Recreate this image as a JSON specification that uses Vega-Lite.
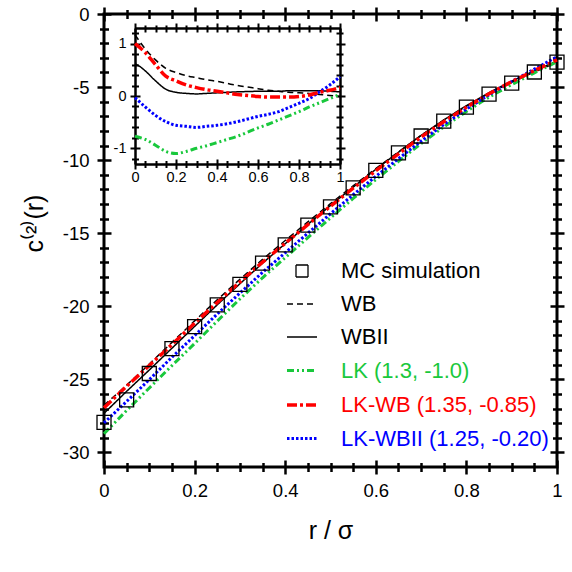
{
  "$schema": "https://vega.github.io/schema/vega-lite/v6.json",
  "width": 453,
  "height": 453,
  "autosize": {"type": "none"},
  "padding": {"left": 104, "top": 14, "right": 15, "bottom": 105},
  "background": "white",
  "datasets": {
    "main": [
      {"series":"MC simulation","r":0,"c":-27.95},{"series":"MC simulation","r":0.05,"c":-26.4},{"series":"MC simulation","r":0.1,"c":-24.6},{"series":"MC simulation","r":0.15,"c":-22.9},{"series":"MC simulation","r":0.2,"c":-21.4},{"series":"MC simulation","r":0.25,"c":-19.9},{"series":"MC simulation","r":0.3,"c":-18.5},{"series":"MC simulation","r":0.35,"c":-17.05},{"series":"MC simulation","r":0.4,"c":-15.8},{"series":"MC simulation","r":0.45,"c":-14.45},{"series":"MC simulation","r":0.5,"c":-13.2},{"series":"MC simulation","r":0.55,"c":-11.9},{"series":"MC simulation","r":0.6,"c":-10.7},{"series":"MC simulation","r":0.65,"c":-9.5},{"series":"MC simulation","r":0.7,"c":-8.35},{"series":"MC simulation","r":0.75,"c":-7.33},{"series":"MC simulation","r":0.8,"c":-6.37},{"series":"MC simulation","r":0.85,"c":-5.48},{"series":"MC simulation","r":0.9,"c":-4.73},{"series":"MC simulation","r":0.95,"c":-3.97},{"series":"MC simulation","r":1,"c":-3.3},
      {"series":"WB","r":0,"c":-26.78},{"series":"WB","r":0.05,"c":-25.4},{"series":"WB","r":0.1,"c":-23.96},{"series":"WB","r":0.15,"c":-22.47},{"series":"WB","r":0.2,"c":-21.0},{"series":"WB","r":0.25,"c":-19.56},{"series":"WB","r":0.3,"c":-18.15},{"series":"WB","r":0.35,"c":-16.79},{"series":"WB","r":0.4,"c":-15.5},{"series":"WB","r":0.45,"c":-14.23},{"series":"WB","r":0.5,"c":-12.98},{"series":"WB","r":0.55,"c":-11.76},{"series":"WB","r":0.6,"c":-10.58},{"series":"WB","r":0.65,"c":-9.44},{"series":"WB","r":0.7,"c":-8.31},{"series":"WB","r":0.75,"c":-7.28},{"series":"WB","r":0.8,"c":-6.31},{"series":"WB","r":0.85,"c":-5.43},{"series":"WB","r":0.9,"c":-4.67},{"series":"WB","r":0.95,"c":-3.97},{"series":"WB","r":1,"c":-3.31},
      {"series":"WBII","r":0,"c":-27.33},{"series":"WBII","r":0.05,"c":-25.82},{"series":"WBII","r":0.1,"c":-24.36},{"series":"WBII","r":0.15,"c":-22.87},{"series":"WBII","r":0.2,"c":-21.38},{"series":"WBII","r":0.25,"c":-19.9},{"series":"WBII","r":0.3,"c":-18.46},{"series":"WBII","r":0.35,"c":-17.05},{"series":"WBII","r":0.4,"c":-15.72},{"series":"WBII","r":0.45,"c":-14.4},{"series":"WBII","r":0.5,"c":-13.1},{"series":"WBII","r":0.55,"c":-11.85},{"series":"WBII","r":0.6,"c":-10.63},{"series":"WBII","r":0.65,"c":-9.46},{"series":"WBII","r":0.7,"c":-8.31},{"series":"WBII","r":0.75,"c":-7.25},{"series":"WBII","r":0.8,"c":-6.27},{"series":"WBII","r":0.85,"c":-5.38},{"series":"WBII","r":0.9,"c":-4.6},{"series":"WBII","r":0.95,"c":-3.89},{"series":"WBII","r":1,"c":-3.22},
      {"series":"LK (1.3, -1.0)","r":0,"c":-28.72},{"series":"LK (1.3, -1.0)","r":0.05,"c":-27.13},{"series":"LK (1.3, -1.0)","r":0.1,"c":-25.59},{"series":"LK (1.3, -1.0)","r":0.15,"c":-24.06},{"series":"LK (1.3, -1.0)","r":0.2,"c":-22.55},{"series":"LK (1.3, -1.0)","r":0.25,"c":-21.01},{"series":"LK (1.3, -1.0)","r":0.3,"c":-19.5},{"series":"LK (1.3, -1.0)","r":0.35,"c":-18.05},{"series":"LK (1.3, -1.0)","r":0.4,"c":-16.67},{"series":"LK (1.3, -1.0)","r":0.45,"c":-15.3},{"series":"LK (1.3, -1.0)","r":0.5,"c":-13.95},{"series":"LK (1.3, -1.0)","r":0.55,"c":-12.62},{"series":"LK (1.3, -1.0)","r":0.6,"c":-11.33},{"series":"LK (1.3, -1.0)","r":0.65,"c":-10.09},{"series":"LK (1.3, -1.0)","r":0.7,"c":-8.86},{"series":"LK (1.3, -1.0)","r":0.75,"c":-7.73},{"series":"LK (1.3, -1.0)","r":0.8,"c":-6.67},{"series":"LK (1.3, -1.0)","r":0.85,"c":-5.69},{"series":"LK (1.3, -1.0)","r":0.9,"c":-4.83},{"series":"LK (1.3, -1.0)","r":0.95,"c":-4.03},{"series":"LK (1.3, -1.0)","r":1,"c":-3.27},
      {"series":"LK-WB (1.35, -0.85)","r":0,"c":-26.95},{"series":"LK-WB (1.35, -0.85)","r":0.05,"c":-25.47},{"series":"LK-WB (1.35, -0.85)","r":0.1,"c":-24.05},{"series":"LK-WB (1.35, -0.85)","r":0.15,"c":-22.62},{"series":"LK-WB (1.35, -0.85)","r":0.2,"c":-21.16},{"series":"LK-WB (1.35, -0.85)","r":0.25,"c":-19.74},{"series":"LK-WB (1.35, -0.85)","r":0.3,"c":-18.34},{"series":"LK-WB (1.35, -0.85)","r":0.35,"c":-16.98},{"series":"LK-WB (1.35, -0.85)","r":0.4,"c":-15.69},{"series":"LK-WB (1.35, -0.85)","r":0.45,"c":-14.41},{"series":"LK-WB (1.35, -0.85)","r":0.5,"c":-13.15},{"series":"LK-WB (1.35, -0.85)","r":0.55,"c":-11.92},{"series":"LK-WB (1.35, -0.85)","r":0.6,"c":-10.73},{"series":"LK-WB (1.35, -0.85)","r":0.65,"c":-9.57},{"series":"LK-WB (1.35, -0.85)","r":0.7,"c":-8.42},{"series":"LK-WB (1.35, -0.85)","r":0.75,"c":-7.37},{"series":"LK-WB (1.35, -0.85)","r":0.8,"c":-6.38},{"series":"LK-WB (1.35, -0.85)","r":0.85,"c":-5.46},{"series":"LK-WB (1.35, -0.85)","r":0.9,"c":-4.63},{"series":"LK-WB (1.35, -0.85)","r":0.95,"c":-3.87},{"series":"LK-WB (1.35, -0.85)","r":1,"c":-3.14},
      {"series":"LK-WBII (1.25, -0.20)","r":0,"c":-27.98},{"series":"LK-WBII (1.25, -0.20)","r":0.05,"c":-26.51},{"series":"LK-WBII (1.25, -0.20)","r":0.1,"c":-25.02},{"series":"LK-WBII (1.25, -0.20)","r":0.15,"c":-23.49},{"series":"LK-WBII (1.25, -0.20)","r":0.2,"c":-22.01},{"series":"LK-WBII (1.25, -0.20)","r":0.25,"c":-20.53},{"series":"LK-WBII (1.25, -0.20)","r":0.3,"c":-19.1},{"series":"LK-WBII (1.25, -0.20)","r":0.35,"c":-17.68},{"series":"LK-WBII (1.25, -0.20)","r":0.4,"c":-16.34},{"series":"LK-WBII (1.25, -0.20)","r":0.45,"c":-15.0},{"series":"LK-WBII (1.25, -0.20)","r":0.5,"c":-13.67},{"series":"LK-WBII (1.25, -0.20)","r":0.55,"c":-12.37},{"series":"LK-WBII (1.25, -0.20)","r":0.6,"c":-11.11},{"series":"LK-WBII (1.25, -0.20)","r":0.65,"c":-9.9},{"series":"LK-WBII (1.25, -0.20)","r":0.7,"c":-8.7},{"series":"LK-WBII (1.25, -0.20)","r":0.75,"c":-7.57},{"series":"LK-WBII (1.25, -0.20)","r":0.8,"c":-6.51},{"series":"LK-WBII (1.25, -0.20)","r":0.85,"c":-5.53},{"series":"LK-WBII (1.25, -0.20)","r":0.9,"c":-4.62},{"series":"LK-WBII (1.25, -0.20)","r":0.95,"c":-3.77},{"series":"LK-WBII (1.25, -0.20)","r":1,"c":-2.93}
    ],
    "inset": [
      {"series":"WB","r":0,"dc":1.17},{"series":"WB","r":0.05,"dc":0.9},{"series":"WB","r":0.1,"dc":0.69},{"series":"WB","r":0.15,"dc":0.53},{"series":"WB","r":0.2,"dc":0.45},{"series":"WB","r":0.25,"dc":0.39},{"series":"WB","r":0.3,"dc":0.35},{"series":"WB","r":0.35,"dc":0.31},{"series":"WB","r":0.4,"dc":0.28},{"series":"WB","r":0.45,"dc":0.24},{"series":"WB","r":0.5,"dc":0.2},{"series":"WB","r":0.55,"dc":0.17},{"series":"WB","r":0.6,"dc":0.14},{"series":"WB","r":0.65,"dc":0.11},{"series":"WB","r":0.7,"dc":0.09},{"series":"WB","r":0.75,"dc":0.07},{"series":"WB","r":0.8,"dc":0.06},{"series":"WB","r":0.85,"dc":0.05},{"series":"WB","r":0.9,"dc":0.03},{"series":"WB","r":0.95,"dc":0.01},{"series":"WB","r":1,"dc":-0.01},
      {"series":"WBII","r":0,"dc":0.62},{"series":"WBII","r":0.025,"dc":0.56},{"series":"WBII","r":0.05,"dc":0.48},{"series":"WBII","r":0.1,"dc":0.29},{"series":"WBII","r":0.15,"dc":0.13},{"series":"WBII","r":0.2,"dc":0.07},{"series":"WBII","r":0.25,"dc":0.05},{"series":"WBII","r":0.3,"dc":0.04},{"series":"WBII","r":0.35,"dc":0.05},{"series":"WBII","r":0.4,"dc":0.06},{"series":"WBII","r":0.45,"dc":0.07},{"series":"WBII","r":0.5,"dc":0.08},{"series":"WBII","r":0.55,"dc":0.085},{"series":"WBII","r":0.6,"dc":0.09},{"series":"WBII","r":0.65,"dc":0.09},{"series":"WBII","r":0.7,"dc":0.09},{"series":"WBII","r":0.75,"dc":0.1},{"series":"WBII","r":0.8,"dc":0.1},{"series":"WBII","r":0.85,"dc":0.1},{"series":"WBII","r":0.9,"dc":0.1},{"series":"WBII","r":0.95,"dc":0.09},{"series":"WBII","r":1,"dc":0.08},
      {"series":"LK (1.3, -1.0)","r":0,"dc":-0.77},{"series":"LK (1.3, -1.0)","r":0.05,"dc":-0.83},{"series":"LK (1.3, -1.0)","r":0.1,"dc":-0.94},{"series":"LK (1.3, -1.0)","r":0.15,"dc":-1.06},{"series":"LK (1.3, -1.0)","r":0.2,"dc":-1.1},{"series":"LK (1.3, -1.0)","r":0.25,"dc":-1.06},{"series":"LK (1.3, -1.0)","r":0.3,"dc":-1.0},{"series":"LK (1.3, -1.0)","r":0.35,"dc":-0.95},{"series":"LK (1.3, -1.0)","r":0.4,"dc":-0.89},{"series":"LK (1.3, -1.0)","r":0.45,"dc":-0.83},{"series":"LK (1.3, -1.0)","r":0.5,"dc":-0.77},{"series":"LK (1.3, -1.0)","r":0.55,"dc":-0.69},{"series":"LK (1.3, -1.0)","r":0.6,"dc":-0.61},{"series":"LK (1.3, -1.0)","r":0.65,"dc":-0.54},{"series":"LK (1.3, -1.0)","r":0.7,"dc":-0.46},{"series":"LK (1.3, -1.0)","r":0.75,"dc":-0.38},{"series":"LK (1.3, -1.0)","r":0.8,"dc":-0.3},{"series":"LK (1.3, -1.0)","r":0.85,"dc":-0.21},{"series":"LK (1.3, -1.0)","r":0.9,"dc":-0.13},{"series":"LK (1.3, -1.0)","r":0.95,"dc":-0.05},{"series":"LK (1.3, -1.0)","r":1,"dc":0.03},
      {"series":"LK-WB (1.35, -0.85)","r":0,"dc":1.0},{"series":"LK-WB (1.35, -0.85)","r":0.05,"dc":0.83},{"series":"LK-WB (1.35, -0.85)","r":0.1,"dc":0.6},{"series":"LK-WB (1.35, -0.85)","r":0.15,"dc":0.38},{"series":"LK-WB (1.35, -0.85)","r":0.2,"dc":0.29},{"series":"LK-WB (1.35, -0.85)","r":0.25,"dc":0.21},{"series":"LK-WB (1.35, -0.85)","r":0.3,"dc":0.16},{"series":"LK-WB (1.35, -0.85)","r":0.35,"dc":0.12},{"series":"LK-WB (1.35, -0.85)","r":0.4,"dc":0.09},{"series":"LK-WB (1.35, -0.85)","r":0.45,"dc":0.06},{"series":"LK-WB (1.35, -0.85)","r":0.5,"dc":0.03},{"series":"LK-WB (1.35, -0.85)","r":0.55,"dc":0.01},{"series":"LK-WB (1.35, -0.85)","r":0.6,"dc":-0.01},{"series":"LK-WB (1.35, -0.85)","r":0.65,"dc":-0.02},{"series":"LK-WB (1.35, -0.85)","r":0.7,"dc":-0.02},{"series":"LK-WB (1.35, -0.85)","r":0.75,"dc":-0.02},{"series":"LK-WB (1.35, -0.85)","r":0.8,"dc":-0.01},{"series":"LK-WB (1.35, -0.85)","r":0.85,"dc":0.02},{"series":"LK-WB (1.35, -0.85)","r":0.9,"dc":0.07},{"series":"LK-WB (1.35, -0.85)","r":0.95,"dc":0.11},{"series":"LK-WB (1.35, -0.85)","r":1,"dc":0.16},
      {"series":"LK-WBII (1.25, -0.20)","r":0,"dc":-0.03},{"series":"LK-WBII (1.25, -0.20)","r":0.05,"dc":-0.21},{"series":"LK-WBII (1.25, -0.20)","r":0.1,"dc":-0.37},{"series":"LK-WBII (1.25, -0.20)","r":0.15,"dc":-0.49},{"series":"LK-WBII (1.25, -0.20)","r":0.2,"dc":-0.56},{"series":"LK-WBII (1.25, -0.20)","r":0.25,"dc":-0.58},{"series":"LK-WBII (1.25, -0.20)","r":0.3,"dc":-0.6},{"series":"LK-WBII (1.25, -0.20)","r":0.35,"dc":-0.58},{"series":"LK-WBII (1.25, -0.20)","r":0.4,"dc":-0.56},{"series":"LK-WBII (1.25, -0.20)","r":0.45,"dc":-0.53},{"series":"LK-WBII (1.25, -0.20)","r":0.5,"dc":-0.49},{"series":"LK-WBII (1.25, -0.20)","r":0.55,"dc":-0.44},{"series":"LK-WBII (1.25, -0.20)","r":0.6,"dc":-0.39},{"series":"LK-WBII (1.25, -0.20)","r":0.65,"dc":-0.35},{"series":"LK-WBII (1.25, -0.20)","r":0.7,"dc":-0.3},{"series":"LK-WBII (1.25, -0.20)","r":0.75,"dc":-0.22},{"series":"LK-WBII (1.25, -0.20)","r":0.8,"dc":-0.14},{"series":"LK-WBII (1.25, -0.20)","r":0.85,"dc":-0.05},{"series":"LK-WBII (1.25, -0.20)","r":0.9,"dc":0.08},{"series":"LK-WBII (1.25, -0.20)","r":0.95,"dc":0.21},{"series":"LK-WBII (1.25, -0.20)","r":1,"dc":0.37}
    ]
  },
  "layer": [
    {
      "data": {"name": "main"},
      "transform": [{"filter": "datum.series === 'WB'"}],
      "mark": {"type": "line"},
      "encoding": {
        "x": {"field": "r", "type": "quantitative", "scale": {"domain": [0, 1], "nice": false, "zero": false},
          "axis": {"orient": "bottom", "values": [0, 0.2, 0.4, 0.6, 0.8, 1], "offset": -7, "tickSize": 14, "domain": false, "labelPadding": 7, "labelFontSize": 18.5,
            "labelExpr": "datum.value < 0 ? '-' + format(-datum.value, '~g') : format(datum.value, '~g')",
            "title": "r / σ", "titleFontSize": 25, "titlePadding": 19}},
        "y": {"field": "c", "type": "quantitative", "scale": {"domain": [-31, 0], "nice": false, "zero": false},
          "axis": {"orient": "left", "values": [-30, -25, -20, -15, -10, -5, 0], "offset": -7, "tickSize": 14, "domain": false, "labelPadding": 8, "labelFontSize": 18.5,
            "labelExpr": "datum.value < 0 ? '-' + format(-datum.value, '~g') : format(datum.value, '~g')",
            "title": "c⁽²⁾(r)", "titleFontSize": 25, "titlePadding": 15, "titleY": 209}},
        "color": {"field": "series", "type": "nominal", "title": null, "scale": {"domain": ["MC simulation", "WB", "WBII", "LK (1.3, -1.0)", "LK-WB (1.35, -0.85)", "LK-WBII (1.25, -0.20)"], "range": ["black", "black", "black", "#19c83c", "#ff0000", "#0000ff"]}},
        "strokeDash": {"field": "series", "type": "nominal", "title": null, "scale": {"domain": ["MC simulation", "WB", "WBII", "LK (1.3, -1.0)", "LK-WB (1.35, -0.85)", "LK-WBII (1.25, -0.20)"], "range": [[1, 0], [6, 4], [1, 0], [7, 3, 2, 3, 2, 3], [10, 3, 3, 3], [2.5, 2]]}},
        "strokeWidth": {"field": "series", "type": "nominal", "title": null, "scale": {"type": "ordinal", "domain": ["MC simulation", "WB", "WBII", "LK (1.3, -1.0)", "LK-WB (1.35, -0.85)", "LK-WBII (1.25, -0.20)"], "range": [1.3, 1.5, 1.5, 3, 3.5, 3]}}
      }
    },
    {
      "data": {"name": "main"},
      "transform": [{"filter": "datum.series === 'WBII'"}],
      "mark": {"type": "line"},
      "encoding": {
        "x": {"field": "r", "type": "quantitative", "scale": {"domain": [0, 1], "nice": false, "zero": false},
          "axis": {"orient": "bottom", "values": [0.05, 0.1, 0.15, 0.25, 0.3, 0.35, 0.45, 0.5, 0.55, 0.65, 0.7, 0.75, 0.85, 0.9, 0.95], "offset": -4.5, "tickSize": 9, "domain": false, "labels": false, "title": null}},
        "y": {"field": "c", "type": "quantitative", "scale": {"domain": [-31, 0], "nice": false, "zero": false},
          "axis": {"orient": "left", "values": [-29, -28, -27, -26, -24, -23, -22, -21, -19, -18, -17, -16, -14, -13, -12, -11, -9, -8, -7, -6, -4, -3, -2, -1], "offset": -4.5, "tickSize": 9, "domain": false, "labels": false, "title": null}},
        "color": {"field": "series", "type": "nominal", "title": null, "scale": {"domain": ["MC simulation", "WB", "WBII", "LK (1.3, -1.0)", "LK-WB (1.35, -0.85)", "LK-WBII (1.25, -0.20)"]}},
        "strokeDash": {"field": "series", "type": "nominal", "title": null, "scale": {"domain": ["MC simulation", "WB", "WBII", "LK (1.3, -1.0)", "LK-WB (1.35, -0.85)", "LK-WBII (1.25, -0.20)"]}},
        "strokeWidth": {"field": "series", "type": "nominal", "title": null, "scale": {"type": "ordinal", "domain": ["MC simulation", "WB", "WBII", "LK (1.3, -1.0)", "LK-WB (1.35, -0.85)", "LK-WBII (1.25, -0.20)"]}}
      }
    },
    {
      "data": {"name": "main"},
      "transform": [{"filter": "datum.series === 'LK (1.3, -1.0)'"}],
      "mark": {"type": "line"},
      "encoding": {
        "x": {"field": "r", "type": "quantitative", "scale": {"domain": [0, 1], "nice": false, "zero": false},
          "axis": {"orient": "top", "values": [0, 0.2, 0.4, 0.6, 0.8, 1], "offset": -7, "tickSize": 14, "domain": false, "labels": false, "title": null}},
        "y": {"field": "c", "type": "quantitative", "scale": {"domain": [-31, 0], "nice": false, "zero": false},
          "axis": {"orient": "right", "values": [-30, -25, -20, -15, -10, -5, 0], "offset": -7, "tickSize": 14, "domain": false, "labels": false, "title": null}},
        "color": {"field": "series", "type": "nominal", "title": null, "scale": {"domain": ["MC simulation", "WB", "WBII", "LK (1.3, -1.0)", "LK-WB (1.35, -0.85)", "LK-WBII (1.25, -0.20)"]}},
        "strokeDash": {"field": "series", "type": "nominal", "title": null, "scale": {"domain": ["MC simulation", "WB", "WBII", "LK (1.3, -1.0)", "LK-WB (1.35, -0.85)", "LK-WBII (1.25, -0.20)"]}},
        "strokeWidth": {"field": "series", "type": "nominal", "title": null, "scale": {"type": "ordinal", "domain": ["MC simulation", "WB", "WBII", "LK (1.3, -1.0)", "LK-WB (1.35, -0.85)", "LK-WBII (1.25, -0.20)"]}}
      }
    },
    {
      "data": {"name": "main"},
      "transform": [{"filter": "datum.series === 'LK-WBII (1.25, -0.20)'"}],
      "mark": {"type": "line"},
      "encoding": {
        "x": {"field": "r", "type": "quantitative", "scale": {"domain": [0, 1], "nice": false, "zero": false},
          "axis": {"orient": "top", "values": [0.05, 0.1, 0.15, 0.25, 0.3, 0.35, 0.45, 0.5, 0.55, 0.65, 0.7, 0.75, 0.85, 0.9, 0.95], "offset": -4.5, "tickSize": 9, "domain": false, "labels": false, "title": null}},
        "y": {"field": "c", "type": "quantitative", "scale": {"domain": [-31, 0], "nice": false, "zero": false},
          "axis": {"orient": "right", "values": [-29, -28, -27, -26, -24, -23, -22, -21, -19, -18, -17, -16, -14, -13, -12, -11, -9, -8, -7, -6, -4, -3, -2, -1], "offset": -4.5, "tickSize": 9, "domain": false, "labels": false, "title": null}},
        "color": {"field": "series", "type": "nominal", "title": null, "scale": {"domain": ["MC simulation", "WB", "WBII", "LK (1.3, -1.0)", "LK-WB (1.35, -0.85)", "LK-WBII (1.25, -0.20)"]}},
        "strokeDash": {"field": "series", "type": "nominal", "title": null, "scale": {"domain": ["MC simulation", "WB", "WBII", "LK (1.3, -1.0)", "LK-WB (1.35, -0.85)", "LK-WBII (1.25, -0.20)"]}},
        "strokeWidth": {"field": "series", "type": "nominal", "title": null, "scale": {"type": "ordinal", "domain": ["MC simulation", "WB", "WBII", "LK (1.3, -1.0)", "LK-WB (1.35, -0.85)", "LK-WBII (1.25, -0.20)"]}}
      }
    },
    {
      "data": {"name": "main"},
      "transform": [{"filter": "datum.series === 'LK-WB (1.35, -0.85)'"}],
      "mark": {"type": "line"},
      "encoding": {
        "x": {"field": "r", "type": "quantitative", "scale": {"domain": [0, 1], "nice": false, "zero": false}, "axis": null},
        "y": {"field": "c", "type": "quantitative", "scale": {"domain": [-31, 0], "nice": false, "zero": false}, "axis": null},
        "color": {"field": "series", "type": "nominal", "title": null, "scale": {"domain": ["MC simulation", "WB", "WBII", "LK (1.3, -1.0)", "LK-WB (1.35, -0.85)", "LK-WBII (1.25, -0.20)"]}},
        "strokeDash": {"field": "series", "type": "nominal", "title": null, "scale": {"domain": ["MC simulation", "WB", "WBII", "LK (1.3, -1.0)", "LK-WB (1.35, -0.85)", "LK-WBII (1.25, -0.20)"]}},
        "strokeWidth": {"field": "series", "type": "nominal", "title": null, "scale": {"type": "ordinal", "domain": ["MC simulation", "WB", "WBII", "LK (1.3, -1.0)", "LK-WB (1.35, -0.85)", "LK-WBII (1.25, -0.20)"]}}
      }
    },
    {
      "data": {"name": "main"},
      "transform": [{"filter": "datum.series === 'MC simulation'"}],
      "mark": {"type": "point", "filled": false, "size": 1225, "opacity": 1},
      "encoding": {
        "x": {"field": "r", "type": "quantitative", "scale": {"domain": [0, 1], "nice": false, "zero": false}, "axis": null},
        "y": {"field": "c", "type": "quantitative", "scale": {"domain": [-31, 0], "nice": false, "zero": false}, "axis": null},
        "color": {"field": "series", "type": "nominal", "title": null, "scale": {"domain": ["MC simulation", "WB", "WBII", "LK (1.3, -1.0)", "LK-WB (1.35, -0.85)", "LK-WBII (1.25, -0.20)"]},
          "legend": {"orient": "none", "legendX": 181, "legendY": 241, "title": null, "padding": 0, "labelFont": "Liberation Sans", "labelFontSize": 22, "labelLimit": 0, "labelOffset": 22, "rowPadding": 6, "symbolSize": 900,
            "labelColor": {"expr": "scale('color', datum.value)"}}},
        "shape": {"field": "series", "type": "nominal", "title": null, "scale": {"domain": ["MC simulation", "WB", "WBII", "LK (1.3, -1.0)", "LK-WB (1.35, -0.85)", "LK-WBII (1.25, -0.20)"], "range": ["M-0.4,-0.4H0.4V0.4H-0.4Z", "stroke", "stroke", "stroke", "stroke", "stroke"]}},
        "strokeWidth": {"field": "series", "type": "nominal", "title": null, "scale": {"type": "ordinal", "domain": ["MC simulation", "WB", "WBII", "LK (1.3, -1.0)", "LK-WB (1.35, -0.85)", "LK-WBII (1.25, -0.20)"]}}
      }
    },
    {
      "data": {"name": "inset"},
      "transform": [{"filter": "datum.series === 'WB'"}],
      "mark": {"type": "line", "interpolate": "monotone"},
      "encoding": {
        "x": {"field": "r", "type": "quantitative", "scale": {"domain": [0, 1], "range": [31, 236], "nice": false, "zero": false},
          "axis": {"orient": "bottom", "offset": -303, "values": [0, 0.2, 0.4, 0.6, 0.8, 1], "ticks": false, "domain": true, "domainWidth": 2.5, "labelPadding": 6, "labelFontSize": 14.5,
            "labelExpr": "datum.value < 0 ? '-' + format(-datum.value, '~g') : format(datum.value, '~g')", "title": null}},
        "y": {"field": "dc", "type": "quantitative", "scale": {"domain": [-1.3, 1.3], "range": [150, 14], "nice": false, "zero": false},
          "axis": {"orient": "left", "offset": -31, "values": [-1, 0, 1], "ticks": false, "domain": true, "domainWidth": 2.5, "labelPadding": 9, "labelFontSize": 14.5,
            "labelExpr": "datum.value < 0 ? '-' + format(-datum.value, '~g') : format(datum.value, '~g')", "title": null}},
        "color": {"field": "series", "type": "nominal", "title": null, "scale": {"domain": ["MC simulation", "WB", "WBII", "LK (1.3, -1.0)", "LK-WB (1.35, -0.85)", "LK-WBII (1.25, -0.20)"]}},
        "strokeDash": {"field": "series", "type": "nominal", "title": null, "scale": {"domain": ["MC simulation", "WB", "WBII", "LK (1.3, -1.0)", "LK-WB (1.35, -0.85)", "LK-WBII (1.25, -0.20)"]}},
        "strokeWidth": {"field": "series", "type": "nominal", "title": null, "scale": {"type": "ordinal", "domain": ["MC simulation", "WB", "WBII", "LK (1.3, -1.0)", "LK-WB (1.35, -0.85)", "LK-WBII (1.25, -0.20)"]}}
      }
    },
    {
      "data": {"name": "inset"},
      "transform": [{"filter": "datum.series === 'WBII'"}],
      "mark": {"type": "line", "interpolate": "monotone"},
      "encoding": {
        "x": {"field": "r", "type": "quantitative", "scale": {"domain": [0, 1], "range": [31, 236], "nice": false, "zero": false},
          "axis": {"orient": "bottom", "offset": -308, "values": [0, 0.2, 0.4, 0.6, 0.8, 1], "tickSize": 10, "tickWidth": 2, "domain": false, "labels": false, "title": null}},
        "y": {"field": "dc", "type": "quantitative", "scale": {"domain": [-1.3, 1.3], "range": [150, 14], "nice": false, "zero": false},
          "axis": {"orient": "left", "offset": -36, "values": [-1, 0, 1], "tickSize": 10, "tickWidth": 2, "domain": false, "labels": false, "title": null}},
        "color": {"field": "series", "type": "nominal", "title": null, "scale": {"domain": ["MC simulation", "WB", "WBII", "LK (1.3, -1.0)", "LK-WB (1.35, -0.85)", "LK-WBII (1.25, -0.20)"]}},
        "strokeDash": {"field": "series", "type": "nominal", "title": null, "scale": {"domain": ["MC simulation", "WB", "WBII", "LK (1.3, -1.0)", "LK-WB (1.35, -0.85)", "LK-WBII (1.25, -0.20)"]}},
        "strokeWidth": {"field": "series", "type": "nominal", "title": null, "scale": {"type": "ordinal", "domain": ["MC simulation", "WB", "WBII", "LK (1.3, -1.0)", "LK-WB (1.35, -0.85)", "LK-WBII (1.25, -0.20)"]}}
      }
    },
    {
      "data": {"name": "inset"},
      "transform": [{"filter": "datum.series === 'LK (1.3, -1.0)'"}],
      "mark": {"type": "line", "interpolate": "monotone"},
      "encoding": {
        "x": {"field": "r", "type": "quantitative", "scale": {"domain": [0, 1], "range": [31, 236], "nice": false, "zero": false},
          "axis": {"orient": "bottom", "offset": -306.5, "values": [0.05, 0.1, 0.15, 0.25, 0.3, 0.35, 0.45, 0.5, 0.55, 0.65, 0.7, 0.75, 0.85, 0.9, 0.95], "tickSize": 7, "tickWidth": 2, "domain": false, "labels": false, "title": null}},
        "y": {"field": "dc", "type": "quantitative", "scale": {"domain": [-1.3, 1.3], "range": [150, 14], "nice": false, "zero": false},
          "axis": {"orient": "left", "offset": -34.5, "values": [-1.2, -0.8, -0.6, -0.4, -0.2, 0.2, 0.4, 0.6, 0.8, 1.2], "tickSize": 7, "tickWidth": 2, "domain": false, "labels": false, "title": null}},
        "color": {"field": "series", "type": "nominal", "title": null, "scale": {"domain": ["MC simulation", "WB", "WBII", "LK (1.3, -1.0)", "LK-WB (1.35, -0.85)", "LK-WBII (1.25, -0.20)"]}},
        "strokeDash": {"field": "series", "type": "nominal", "title": null, "scale": {"domain": ["MC simulation", "WB", "WBII", "LK (1.3, -1.0)", "LK-WB (1.35, -0.85)", "LK-WBII (1.25, -0.20)"]}},
        "strokeWidth": {"field": "series", "type": "nominal", "title": null, "scale": {"type": "ordinal", "domain": ["MC simulation", "WB", "WBII", "LK (1.3, -1.0)", "LK-WB (1.35, -0.85)", "LK-WBII (1.25, -0.20)"]}}
      }
    },
    {
      "data": {"name": "inset"},
      "transform": [{"filter": "datum.series === 'LK-WBII (1.25, -0.20)'"}],
      "mark": {"type": "line", "interpolate": "monotone"},
      "encoding": {
        "x": {"field": "r", "type": "quantitative", "scale": {"domain": [0, 1], "range": [31, 236], "nice": false, "zero": false},
          "axis": {"orient": "top", "offset": -14, "ticks": false, "labels": false, "domain": true, "domainWidth": 2.5, "title": null}},
        "y": {"field": "dc", "type": "quantitative", "scale": {"domain": [-1.3, 1.3], "range": [150, 14], "nice": false, "zero": false},
          "axis": {"orient": "right", "offset": -217, "ticks": false, "labels": false, "domain": true, "domainWidth": 2.5, "title": null}},
        "color": {"field": "series", "type": "nominal", "title": null, "scale": {"domain": ["MC simulation", "WB", "WBII", "LK (1.3, -1.0)", "LK-WB (1.35, -0.85)", "LK-WBII (1.25, -0.20)"]}},
        "strokeDash": {"field": "series", "type": "nominal", "title": null, "scale": {"domain": ["MC simulation", "WB", "WBII", "LK (1.3, -1.0)", "LK-WB (1.35, -0.85)", "LK-WBII (1.25, -0.20)"]}},
        "strokeWidth": {"field": "series", "type": "nominal", "title": null, "scale": {"type": "ordinal", "domain": ["MC simulation", "WB", "WBII", "LK (1.3, -1.0)", "LK-WB (1.35, -0.85)", "LK-WBII (1.25, -0.20)"]}}
      }
    },
    {
      "data": {"name": "inset"},
      "transform": [{"filter": "datum.series === 'LK-WB (1.35, -0.85)'"}],
      "mark": {"type": "line", "interpolate": "monotone"},
      "encoding": {
        "x": {"field": "r", "type": "quantitative", "scale": {"domain": [0, 1], "range": [31, 236], "nice": false, "zero": false},
          "axis": {"orient": "top", "offset": -18, "values": [0, 0.05, 0.1, 0.15, 0.2, 0.25, 0.3, 0.35, 0.4, 0.45, 0.5, 0.55, 0.6, 0.65, 0.7, 0.75, 0.8, 0.85, 0.9, 0.95, 1],
            "tickSize": {"condition": {"test": "abs(datum.value * 5 - round(datum.value * 5)) < 0.01", "value": 9}, "value": 7}, "tickWidth": 2, "domain": false, "labels": false, "title": null}},
        "y": {"field": "dc", "type": "quantitative", "scale": {"domain": [-1.3, 1.3], "range": [150, 14], "nice": false, "zero": false},
          "axis": {"orient": "right", "offset": -221, "values": [-1.2, -1, -0.8, -0.6, -0.4, -0.2, 0, 0.2, 0.4, 0.6, 0.8, 1, 1.2],
            "tickSize": {"condition": {"test": "abs(datum.value - round(datum.value)) < 0.01", "value": 9}, "value": 7}, "tickWidth": 2, "domain": false, "labels": false, "title": null}},
        "color": {"field": "series", "type": "nominal", "title": null, "scale": {"domain": ["MC simulation", "WB", "WBII", "LK (1.3, -1.0)", "LK-WB (1.35, -0.85)", "LK-WBII (1.25, -0.20)"]}},
        "strokeDash": {"field": "series", "type": "nominal", "title": null, "scale": {"domain": ["MC simulation", "WB", "WBII", "LK (1.3, -1.0)", "LK-WB (1.35, -0.85)", "LK-WBII (1.25, -0.20)"]}},
        "strokeWidth": {"field": "series", "type": "nominal", "title": null, "scale": {"type": "ordinal", "domain": ["MC simulation", "WB", "WBII", "LK (1.3, -1.0)", "LK-WB (1.35, -0.85)", "LK-WBII (1.25, -0.20)"]}}
      }
    }
  ],
  "resolve": {"scale": {"x": "independent", "y": "independent"}},
  "config": {
    "view": {"stroke": "black", "strokeWidth": 3},
    "line": {"strokeCap": "butt"},
    "axis": {
      "grid": false,
      "domainColor": "black",
      "tickColor": "black",
      "labelColor": "black",
      "titleColor": "black",
      "labelFont": "Liberation Sans",
      "titleFont": "Liberation Sans",
      "titleFontWeight": "normal",
      "labelFlush": false,
      "labelOverlap": false,
      "labelBound": false,
      "tickWidth": 2.5,
      "domainWidth": 2.5
    },
    "legend": {"labelFont": "Liberation Sans"}
  }
}
